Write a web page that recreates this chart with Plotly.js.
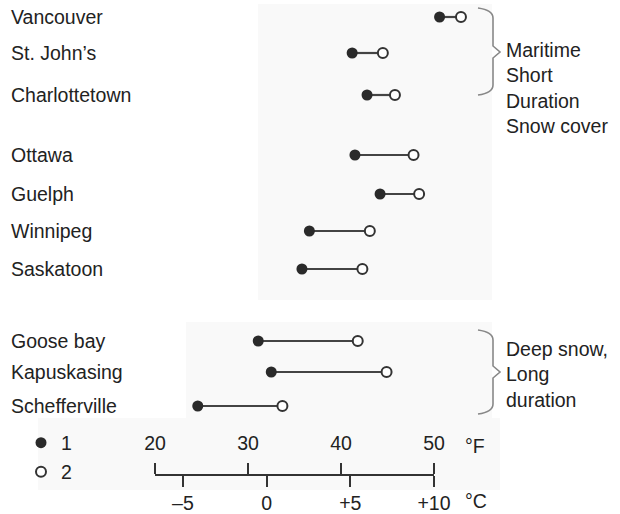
<!DOCTYPE html>
<html>
<head>
<meta charset="utf-8">
<script src="https://cdn.plot.ly/plotly-3.0.1.min.js"></script>
<style>html,body{margin:0;padding:0;background:#fff;}#chart{width:620px;height:514px;}</style>
</head>
<body>
<div id="chart"></div>
<script>
// ---- data (°F) ----
const cities = ["Vancouver","St. John\u2019s","Charlottetown","Ottawa","Guelph","Winnipeg","Saskatoon","Goose bay","Kapuskasing","Schefferville"];
const series1 = [50.6, 41.2, 42.8, 41.5, 44.2, 36.6, 35.8, 31.1, 32.5, 24.6];
const series2 = [52.9, 44.5, 45.8, 47.8, 48.4, 43.1, 42.3, 41.8, 44.9, 33.7];
const seriesNames = ["1","2"];
const fTicks = [20,30,40,50];
const cTicks = [-5,0,5,10];
const cTickText = ["\u20135","0","+5","+10"];
const groupNotes = ["Maritime<br>Short<br>Duration<br>Snow cover","Deep snow,<br>Long<br>duration"];

// ---- layout constants (pixel rows) ----
const W = 620, H = 514;
const rowPos = [17, 53, 95, 155, 194, 231, 269, 341, 372, 406];
const px = v => v / W;
const py = v => 1 - v / H;
const FONT = "Liberation Sans, Arial, sans-serif";
const ink = "#222";

const lx = [], ly = [];
cities.forEach((c, i) => { lx.push(series1[i], series2[i], null); ly.push(rowPos[i], rowPos[i], null); });

const traces = [
  {x: lx, y: ly, mode: "lines", line: {color: "#444", width: 2.2}, showlegend: false, hoverinfo: "skip"},
  {x: series1, y: rowPos, name: seriesNames[0], mode: "markers", cliponaxis: false, legend: "legend",
   marker: {symbol: "circle", size: 11, color: "#2a2a2a", line: {width: 0}}},
  {x: series2, y: rowPos, name: seriesNames[1], mode: "markers", cliponaxis: false, legend: "legend2",
   marker: {symbol: "circle", size: 10, color: "#fff", line: {width: 2, color: "#333"}}},
  {x: [fTicks[0], fTicks[fTicks.length-1]], y: [0.5, 0.5], xaxis: "x2", yaxis: "y2", mode: "markers",
   marker: {opacity: 0}, showlegend: false, hoverinfo: "skip"},
  {x: [cTicks[0], cTicks[cTicks.length-1]], y: [0.5, 0.5], xaxis: "x3", yaxis: "y2", mode: "markers",
   marker: {opacity: 0}, showlegend: false, hoverinfo: "skip"}
];

const axisY = 475;
const dy = py(axisY);

const annotations = cities.map((c, i) => ({
  text: c, xref: "paper", x: px(9), xanchor: "left", yref: "y", y: rowPos[i], yanchor: "middle",
  showarrow: false, font: {family: FONT, size: 19.5, color: ink}
}));
annotations.push(
  {text: groupNotes[0], xref: "paper", yref: "paper", x: px(504), y: py(37), xanchor: "left", yanchor: "top", align: "left",
   showarrow: false, font: {family: FONT, size: 19.5, color: ink}},
  {text: groupNotes[1], xref: "paper", yref: "paper", x: px(504), y: py(336), xanchor: "left", yanchor: "top", align: "left",
   showarrow: false, font: {family: FONT, size: 19.5, color: ink}},
  {text: "\u00b0F", xref: "paper", yref: "paper", x: px(463), y: py(446), xanchor: "left", yanchor: "middle",
   showarrow: false, font: {family: FONT, size: 19.5, color: ink}},
  {text: "\u00b0C", xref: "paper", yref: "paper", x: px(463), y: py(501), xanchor: "left", yanchor: "middle",
   showarrow: false, font: {family: FONT, size: 19.5, color: ink}}
);

function brace(x0, top, mid, bot) {
  const b = px(x0 + 7), c = px(x0 + 14);
  return `M ${px(x0-8)},${py(top)} Q ${b},${py(top+2)} ${b},${py(top+10)} L ${b},${py(mid-6)} L ${c},${py(mid)} L ${b},${py(mid+6)} L ${b},${py(bot-10)} Q ${b},${py(bot-2)} ${px(x0-8)},${py(bot)}`;
}

const shapes = [
  {type: "rect", xref: "paper", yref: "paper", x0: px(258), x1: px(492), y0: py(4), y1: py(300), fillcolor: "#f9f9f9", line: {width: 0}, layer: "below"},
  {type: "rect", xref: "paper", yref: "paper", x0: px(186), x1: px(492), y0: py(322), y1: py(418), fillcolor: "#f9f9f9", line: {width: 0}, layer: "below"},
  {type: "rect", xref: "paper", yref: "paper", x0: px(38), x1: px(500), y0: py(418), y1: py(490), fillcolor: "#f9f9f9", line: {width: 0}, layer: "below"},
  {type: "path", xref: "paper", yref: "paper", path: brace(486, 8, 52, 95), line: {color: "#888", width: 1.6}},
  {type: "path", xref: "paper", yref: "paper", path: brace(486, 330, 372, 414), line: {color: "#888", width: 1.6}}
];

const legendBase = {xanchor: "left", yanchor: "middle", bgcolor: "rgba(0,0,0,0)",
  font: {family: FONT, size: 19.5, color: ink}, itemwidth: 30, borderwidth: 0};

const layout = {
  width: W, height: H,
  margin: {l: 0, r: 0, t: 0, b: 0, pad: 0},
  paper_bgcolor: "rgba(0,0,0,0)", plot_bgcolor: "rgba(0,0,0,0)",
  font: {family: FONT, size: 19.5, color: ink},
  showlegend: true,
  legend: Object.assign({x: px(21), y: py(443)}, legendBase),
  legend2: Object.assign({x: px(21), y: py(472)}, legendBase),
  xaxis: {domain: [0, 1], range: [20 - 155 * 30 / 279, 20 + 465 * 30 / 279], visible: false, fixedrange: true},
  yaxis: {domain: [0, 1], range: [H, 0], visible: false, fixedrange: true},
  xaxis2: {domain: [px(155), px(434)], range: [20, 50], anchor: "free", position: dy, side: "top",
           tickvals: fTicks, ticks: "outside", ticklen: 11, tickwidth: 2, tickcolor: "#333", ticklabelstandoff: 5,
           showline: true, linecolor: "#333", linewidth: 2, showgrid: false, zeroline: false,
           tickfont: {family: FONT, size: 19.5, color: ink}, fixedrange: true},
  xaxis3: {overlaying: "x2", range: [(20 - 32) / 1.8, 10], anchor: "free", position: dy, side: "bottom",
           tickvals: cTicks, ticktext: cTickText, ticks: "outside", ticklen: 11, tickwidth: 2, tickcolor: "#333", ticklabelstandoff: 0,
           showline: false, showgrid: false, zeroline: false,
           tickfont: {family: FONT, size: 19.5, color: ink}, fixedrange: true},
  yaxis2: {domain: [0, 0.2], range: [0, 1], visible: false, fixedrange: true},
  annotations: annotations,
  shapes: shapes
};

Plotly.newPlot("chart", traces, layout, {displayModeBar: false, staticPlot: true});
</script>
</body>
</html>
